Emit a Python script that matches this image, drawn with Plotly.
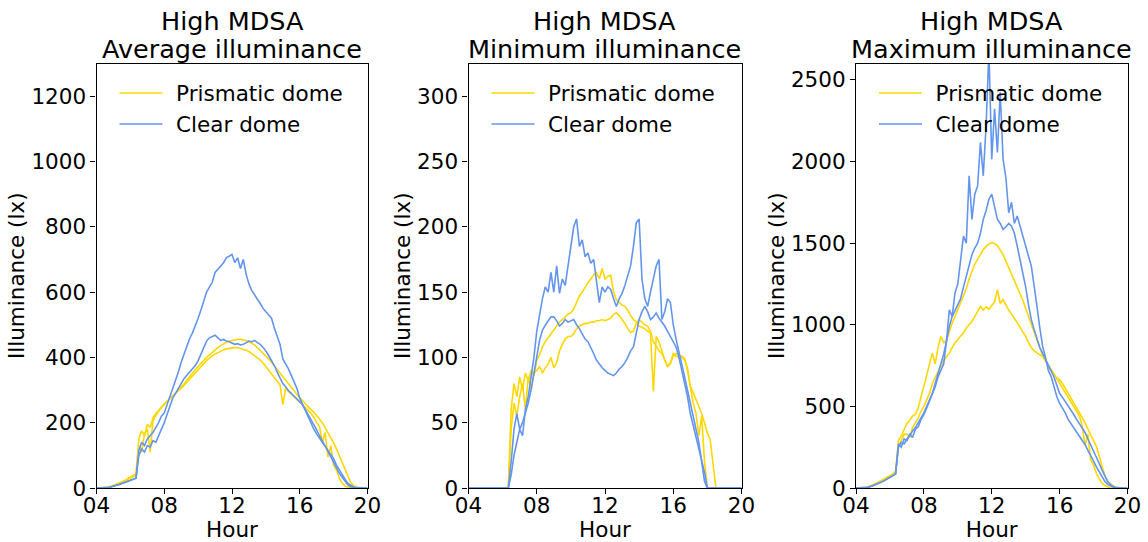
import plotly.graph_objects as go

# Sampling clock: one reading every 10 minutes from 04:00 to 20:00 (decimal hours)
HOURS = [4 + m / 60 for m in range(0, 16 * 60 + 1, 10)]

HOUR_TICKS = [4, 8, 12, 16, 20]
HOUR_LABELS = ["04", "08", "12", "16", "20"]

PRISM_NAME = "Prismatic dome"
CLEAR_NAME = "Clear dome"

TITLES = [
    ("High MDSA", "Average illuminance"),
    ("High MDSA", "Minimum illuminance"),
    ("High MDSA", "Maximum illuminance"),
]

# ---- Average illuminance (lx), one row per hour (:00 :10 :20 :30 :40 :50) ----
AVG_PRISM_1 = [
    0, 0, 0, 0, 2, 4,
    7, 10, 13, 17, 21, 25,
    30, 34, 40, 150, 175, 160,
    195, 185, 215, 228, 236, 246,
    255, 264, 273, 282, 290, 298,
    308, 318, 330, 342, 353, 363,
    372, 382, 392, 400, 408, 416,
    424, 430, 436, 442, 446, 450,
    452, 454, 455, 455, 454, 452,
    448, 444, 438, 430, 422, 414,
    405, 395, 385, 374, 362, 352,
    342, 330, 318, 306, 296, 286,
    276, 268, 258, 248, 240, 232,
    222, 212, 200, 185, 170, 155,
    138, 120, 100, 78, 55, 35,
    18, 8, 3, 1, 0, 0,
    0,
]
AVG_PRISM_2 = [
    0, 0, 0, 0, 2, 5,
    8, 11, 15, 19, 23, 28,
    33, 38, 44, 130, 110, 165,
    180, 110, 205, 222, 236, 248,
    258, 266, 273, 280, 288, 296,
    304, 314, 324, 334, 344, 354,
    364, 372, 381, 390, 398, 405,
    410, 415, 419, 423, 426, 428,
    429, 430, 430, 428, 426, 422,
    418, 412, 406, 399, 392, 383,
    372, 362, 350, 338, 326, 316,
    255, 305, 296, 288, 280, 271,
    262, 254, 246, 238, 228, 216,
    200, 188, 140, 170, 95, 130,
    70, 55, 30, 15, 6, 2,
    0, 0, 0, 0, 0, 0,
    0,
]
AVG_CLEAR_1 = [
    0, 0, 0, 0, 1, 3,
    5, 8, 11, 14, 17, 20,
    23, 26, 30, 115, 140, 130,
    150, 160, 170, 185, 200, 220,
    230, 255, 280, 300, 325, 355,
    385, 410, 435, 458, 475, 495,
    520, 545, 570, 600, 615, 630,
    660, 670, 680, 690, 705, 710,
    715, 690, 705, 672, 700, 655,
    625, 605, 590, 578, 565, 550,
    540, 530, 520, 490, 465, 440,
    395, 380, 365, 345, 325, 305,
    275, 255, 235, 215, 195, 180,
    165, 152, 140, 128, 115, 102,
    90, 70, 55, 42, 28, 15,
    8, 3, 1, 0, 0, 0,
    0,
]
AVG_CLEAR_2 = [
    0, 0, 0, 0, 1, 3,
    5, 8, 11, 14, 17, 20,
    23, 26, 30, 100, 120, 110,
    130, 125, 145, 140, 160, 175,
    200, 225, 250, 275, 290, 305,
    320, 335, 345, 355, 365, 375,
    390, 410, 430, 450, 460, 465,
    468, 460, 452, 455, 450, 448,
    443, 440, 442, 438, 440, 445,
    450, 448, 452, 445, 440, 430,
    420, 405, 392, 375, 355, 335,
    320, 310, 298, 290, 282, 272,
    264, 255, 240, 225, 210, 195,
    178, 160, 145, 130, 112, 95,
    80, 62, 45, 32, 20, 10,
    4, 1, 0, 0, 0, 0,
    0,
]

# ---- Minimum illuminance (lx) ----
MIN_PRISM_1 = [
    0, 0, 0, 0, 0, 0,
    0, 0, 0, 0, 0, 0,
    0, 0, 0, 60, 80, 70,
    85, 75, 88, 82, 90, 86,
    98, 102, 108, 112, 115, 118,
    121, 124, 127, 129, 131, 133,
    134, 137, 142, 147, 150, 154,
    157, 160, 163, 165, 160, 168,
    160, 162, 163, 150, 144, 142,
    140, 139, 136, 132, 129, 127,
    124, 123, 122, 120, 119, 74,
    116, 112, 105, 98, 93, 96,
    101, 103, 102, 100, 98, 92,
    78, 73, 68, 62, 57, 50,
    42, 37, 20, 0, 0, 0,
    0, 0, 0, 0, 0, 0,
    0,
]
MIN_PRISM_2 = [
    0, 0, 0, 0, 0, 0,
    0, 0, 0, 0, 0, 0,
    0, 0, 0, 45, 65, 55,
    70, 80, 60, 85, 75, 88,
    90, 93, 88, 92, 95, 100,
    92, 96, 105, 110, 114, 116,
    116, 118, 122, 124, 125, 126,
    126, 127, 127, 128, 128, 129,
    128, 129, 130, 133, 134, 132,
    129, 126, 122, 119, 120, 126,
    129, 127, 125, 124, 120, 112,
    108, 105, 103, 98, 93, 95,
    103, 101, 100, 101, 99, 90,
    78, 65, 57, 40, 55, 20,
    0, 0, 0, 0, 0, 0,
    0, 0, 0, 0, 0, 0,
    0,
]
MIN_CLEAR_1 = [
    0, 0, 0, 0, 0, 0,
    0, 0, 0, 0, 0, 0,
    0, 0, 0, 20, 45, 57,
    45, 40, 60, 70, 85, 100,
    120, 134, 145, 154, 150, 165,
    150, 170, 149, 160, 155, 170,
    185, 200, 206, 185, 190, 177,
    180, 172, 175, 160, 142, 154,
    150, 154, 152, 145, 139, 145,
    149, 155, 162, 170, 185, 203,
    206, 160, 145, 139, 150, 160,
    170, 175, 129, 135, 145, 142,
    125, 114, 105, 95, 85, 75,
    65, 55, 45, 35, 20, 5,
    0, 0, 0, 0, 0, 0,
    0, 0, 0, 0, 0, 0,
    0,
]
MIN_CLEAR_2 = [
    0, 0, 0, 0, 0, 0,
    0, 0, 0, 0, 0, 0,
    0, 0, 0, 10, 25, 35,
    45, 50, 57, 65, 75, 88,
    100, 113, 121, 125, 128, 131,
    131, 128, 124, 126, 129, 127,
    128, 129, 125, 122, 118, 114,
    112, 108, 103, 98, 95, 92,
    90, 88, 87, 86, 88, 91,
    93, 96, 100, 105, 108, 118,
    129, 135, 139, 135, 129, 131,
    134, 130, 127, 124, 120, 116,
    112, 108, 100, 90, 80, 70,
    57, 48, 40, 32, 22, 12,
    0, 0, 0, 0, 0, 0,
    0, 0, 0, 0, 0, 0,
    0,
]

# ---- Maximum illuminance (lx) ----
MAX_PRISM_1 = [
    0, 0, 0, 0, 5, 10,
    18, 26, 35, 45, 55, 65,
    75, 85, 100, 290, 320, 355,
    395, 415, 440, 450, 490, 560,
    620, 690, 760, 826, 760, 860,
    928, 890, 900, 960, 1010, 1050,
    1090, 1130, 1170, 1220, 1280, 1330,
    1370, 1400, 1430, 1460, 1480, 1495,
    1502, 1498, 1485, 1461, 1430, 1390,
    1350, 1310, 1270, 1230, 1200, 1150,
    1100, 1050, 1000, 950, 900, 850,
    810, 780, 740, 720, 690, 675,
    662, 640, 610, 580, 555, 520,
    490, 460, 430, 400, 360, 320,
    290, 255, 200, 130, 75, 40,
    25, 12, 5, 2, 0, 0,
    0,
]
MAX_PRISM_2 = [
    0, 0, 0, 0, 5, 10,
    18, 26, 35, 45, 55, 65,
    75, 85, 100, 250, 290, 330,
    330, 310, 370, 400, 430, 470,
    500, 540, 580, 640, 680, 720,
    750, 780, 800, 826, 860, 890,
    910, 930, 950, 980, 1000, 1020,
    1050, 1080, 1113, 1090, 1110, 1095,
    1120, 1140, 1215, 1130, 1154, 1120,
    1090, 1065, 1040, 1010, 985, 955,
    930, 890, 860, 840, 826, 815,
    805, 780, 755, 730, 700, 670,
    641, 610, 585, 560, 530, 500,
    470, 440, 380, 260, 330, 170,
    140, 90, 55, 30, 15, 5,
    0, 0, 0, 0, 0, 0,
    0,
]
MAX_CLEAR_1 = [
    0, 0, 0, 0, 4, 8,
    14, 20, 28, 36, 45, 55,
    65, 75, 85, 270, 250, 300,
    290, 330, 310, 360, 375, 420,
    450, 490, 530, 570, 620, 680,
    720, 760, 900, 1092, 1050, 1195,
    1250, 1400, 1543, 1500, 1912, 1645,
    1800, 1850, 2117, 1912, 2219, 2680,
    2014, 2322, 2055, 2424, 2014, 1900,
    1686, 1750, 1620, 1666, 1600, 1543,
    1480, 1420, 1359, 1250, 1113, 980,
    867, 800, 720, 682, 620, 560,
    518, 490, 460, 420, 395, 370,
    340, 315, 290, 265, 230, 200,
    165, 130, 100, 70, 40, 22,
    12, 5, 2, 0, 0, 0,
    0,
]
MAX_CLEAR_2 = [
    0, 0, 0, 0, 4, 8,
    14, 20, 28, 36, 45, 55,
    65, 75, 85, 250, 280, 270,
    300, 320, 350, 370, 400, 430,
    460, 500, 540, 580, 640, 700,
    760, 820, 900, 990, 1050, 1090,
    1120, 1160, 1230, 1297, 1380, 1430,
    1470, 1500, 1560, 1645, 1700, 1768,
    1800, 1720, 1645, 1620, 1584, 1600,
    1620, 1604, 1560, 1482, 1400, 1300,
    1230, 1120, 1031, 970, 908, 860,
    826, 790, 745, 715, 680, 630,
    580, 555, 530, 500, 477, 450,
    420, 395, 365, 340, 300, 265,
    230, 195, 150, 110, 75, 40,
    20, 8, 3, 0, 0, 0,
    0,
]

PANELS = [
    {"prism": [AVG_PRISM_1, AVG_PRISM_2], "clear": [AVG_CLEAR_1, AVG_CLEAR_2],
     "yrange": [0, 1300], "dtick": 200},
    {"prism": [MIN_PRISM_1, MIN_PRISM_2], "clear": [MIN_CLEAR_1, MIN_CLEAR_2],
     "yrange": [0, 325], "dtick": 50},
    {"prism": [MAX_PRISM_1, MAX_PRISM_2], "clear": [MAX_CLEAR_1, MAX_CLEAR_2],
     "yrange": [0, 2600], "dtick": 500},
]

PRISM_COLOR = "#FFD700"
CLEAR_COLOR = "#6495ED"
FONT = "DejaVu Sans"
LEGEND_PAD = "\u2009\u2009"  # gap between legend sample line and its label

W, H = 1148, 542
# panel plot-area edges in pixels (left, right); shared top/bottom
PANEL_X = [(96.5, 367.5), (468.5, 741.5), (856.0, 1127.5)]
TOP, BOTTOM = 63.5, 488.0


def fx(px):
    return px / W


def fy(px):
    return 1 - px / H


fig = go.Figure()

for i, panel in enumerate(PANELS):
    suffix = "" if i == 0 else str(i + 1)
    legend_id = "legend" + suffix
    for group, color, name in (("prism", PRISM_COLOR, PRISM_NAME),
                               ("clear", CLEAR_COLOR, CLEAR_NAME)):
        for k, values in enumerate(panel[group]):
            assert len(values) == len(HOURS)
            fig.add_trace(go.Scatter(
                x=HOURS, y=values, mode="lines", name=LEGEND_PAD + name,
                line=dict(color=color, width=1.6),
                xaxis="x" + suffix, yaxis="y" + suffix,
                legend=legend_id, showlegend=(k == 0),
                hoverinfo="skip",
            ))

    left, right = PANEL_X[i]
    axis_common = dict(
        showline=True, mirror=True, linecolor="black", linewidth=1.1,
        ticks="outside", ticklen=5, tickwidth=1.1, tickcolor="black",
        showgrid=False, zeroline=False, automargin=False,
        tickfont=dict(family=FONT, size=21.5, color="black"),
    )
    fig.update_layout({
        "xaxis" + suffix: dict(
            domain=[fx(left), fx(right)], anchor="y" + suffix,
            range=[4, 20], tickvals=HOUR_TICKS, ticktext=HOUR_LABELS,
            ticklabelstandoff=-7,
            title=dict(text="Hour", font=dict(family=FONT, size=21.5, color="black"),
                       standoff=6),
            **axis_common,
        ),
        "yaxis" + suffix: dict(
            domain=[fy(BOTTOM), fy(TOP)], anchor="x" + suffix,
            range=panel["yrange"], dtick=panel["dtick"],
            title=dict(text="Illuminance (lx)",
                       font=dict(family=FONT, size=21.5, color="black"),
                       standoff=0),
            **axis_common,
        ),
        legend_id: dict(
            x=fx(left + 18), y=fy(TOP + 9), xanchor="left", yanchor="top",
            bgcolor="rgba(0,0,0,0)", borderwidth=0, itemwidth=43,
            font=dict(family=FONT, size=21.5, color="black"),
        ),
    })

    center = fx((left + right) / 2)
    line1, line2 = TITLES[i]
    fig.add_annotation(text=line1, x=center, y=fy(21), xref="paper", yref="paper",
                       xanchor="center", yanchor="middle", showarrow=False,
                       font=dict(family=FONT, size=25.5, color="black"))
    fig.add_annotation(text=line2, x=center, y=fy(49), xref="paper", yref="paper",
                       xanchor="center", yanchor="middle", showarrow=False,
                       font=dict(family=FONT, size=25.5, color="black"))

fig.update_layout(
    width=W, height=H,
    margin=dict(l=0, r=0, t=0, b=0),
    paper_bgcolor="white", plot_bgcolor="white",
    hovermode=False,
)

fig.write_html("out.html", config={"displayModeBar": False})
